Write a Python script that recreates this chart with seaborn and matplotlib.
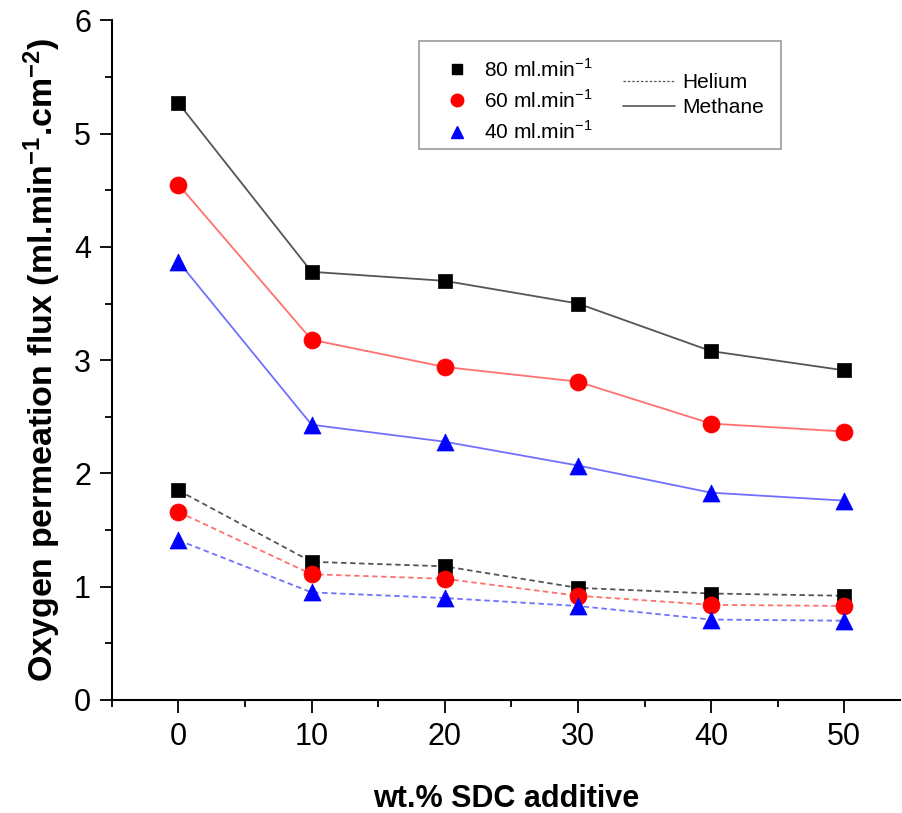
import numpy as np
import pandas as pd
import seaborn as sns
import matplotlib.pyplot as plt
from matplotlib.lines import Line2D
from matplotlib.patches import Rectangle
from matplotlib.ticker import MultipleLocator

# data
sdc = [0, 10, 20, 30, 40, 50]
methane_80 = [5.27, 3.78, 3.70, 3.50, 3.08, 2.91]
methane_60 = [4.55, 3.18, 2.94, 2.81, 2.44, 2.37]
methane_40 = [3.87, 2.43, 2.28, 2.07, 1.83, 1.76]
helium_80 = [1.85, 1.22, 1.18, 0.99, 0.94, 0.92]
helium_60 = [1.66, 1.11, 1.07, 0.92, 0.84, 0.83]
helium_40 = [1.41, 0.95, 0.90, 0.83, 0.71, 0.70]
rates = ["80 ml.min$^{-1}$", "60 ml.min$^{-1}$", "40 ml.min$^{-1}$"]

sns.set_style("ticks")
plt.rcParams['font.family'] = ['Liberation Sans', 'DejaVu Sans']
plt.rcParams['mathtext.fontset'] = 'custom'
plt.rcParams['mathtext.rm'] = 'Liberation Sans'
plt.rcParams['mathtext.bf'] = 'Liberation Sans:bold'
plt.rcParams['text.color'] = 'black'
plt.rcParams['axes.labelcolor'] = 'black'
plt.rcParams['xtick.color'] = 'black'
plt.rcParams['ytick.color'] = 'black'

fig = plt.figure(figsize=(9.02, 8.13), dpi=100)
ax = fig.add_axes([0.124, 0.139, 0.874, 0.836])

marker_col = ["black", "red", "blue"]
line_col = ["#555555", "#ff7070", "#7070ff"]
markers = ["s", "o", "^"]
msize = [110, 150, 150]

methane = [methane_80, methane_60, methane_40]
helium = [helium_80, helium_60, helium_40]

for i in range(3):
    df_m = pd.DataFrame({"x": sdc, "y": methane[i]})
    df_h = pd.DataFrame({"x": sdc, "y": helium[i]})
    sns.lineplot(data=df_m, x="x", y="y", color=line_col[i], lw=1.3, ax=ax)
    sns.lineplot(data=df_h, x="x", y="y", color=line_col[i], lw=1.3,
                 dashes=False, linestyle=(0, (3, 2)), ax=ax)
    sns.scatterplot(data=df_m, x="x", y="y", color=marker_col[i], marker=markers[i],
                    s=msize[i], edgecolor=marker_col[i], linewidth=0.5, zorder=3, ax=ax)
    sns.scatterplot(data=df_h, x="x", y="y", color=marker_col[i], marker=markers[i],
                    s=msize[i], edgecolor=marker_col[i], linewidth=0.5, zorder=3, ax=ax)

ax.set_xlim(-5, 54.2)
ax.set_ylim(0, 6)
ax.xaxis.set_major_locator(MultipleLocator(10))
ax.xaxis.set_minor_locator(MultipleLocator(5))
ax.yaxis.set_major_locator(MultipleLocator(1))
ax.yaxis.set_minor_locator(MultipleLocator(0.5))
ax.tick_params(which="major", length=9, width=1.3, labelsize=22, direction="out")
ax.tick_params(which="minor", length=5, width=1.3, direction="out")
ax.tick_params(axis="x", pad=7)
ax.tick_params(axis="y", pad=6)
sns.despine(ax=ax)
for s in ["left", "bottom"]:
    ax.spines[s].set_linewidth(1.5)
    ax.spines[s].set_color("black")

ax.set_xlabel("wt.% SDC additive", fontsize=22, fontweight="bold")
ax.xaxis.set_label_coords(0.5, -0.124)
ax.set_ylabel("Oxygen permeation flux (ml.min$\\mathbf{^{-1}}$.cm$\\mathbf{^{-2}}$)",
              fontsize=24.5, fontweight="bold")
ax.yaxis.set_label_coords(-0.062, 0.5)

# legend box
box = Rectangle((0.390, 0.810), 0.459, 0.160, transform=ax.transAxes, fill=False,
                edgecolor="#999999", lw=1.2, zorder=4)
ax.add_patch(box)
h1 = [Line2D([], [], ls="none", marker=markers[i], color=marker_col[i],
             markersize=[7, 9, 9][i]) for i in range(3)]
leg1 = ax.legend(h1, rates, loc="upper left", bbox_to_anchor=(0.424, 0.945), frameon=False,
                 fontsize=15, handlelength=1.0, handletextpad=0.8, labelspacing=0.42,
                 borderaxespad=0, borderpad=0)
ax.add_artist(leg1)
h2 = [Line2D([], [], color="#555555", lw=0.9, ls=(0, (2, 1.5))),
      Line2D([], [], color="#555555", lw=1.2)]
ax.legend(h2, ["Helium", "Methane"], loc="upper left", bbox_to_anchor=(0.648, 0.922),
          frameon=False, fontsize=15, handlelength=2.5, handletextpad=0.35,
          labelspacing=0.28, borderaxespad=0, borderpad=0)

fig.savefig("out.png", dpi=100)
